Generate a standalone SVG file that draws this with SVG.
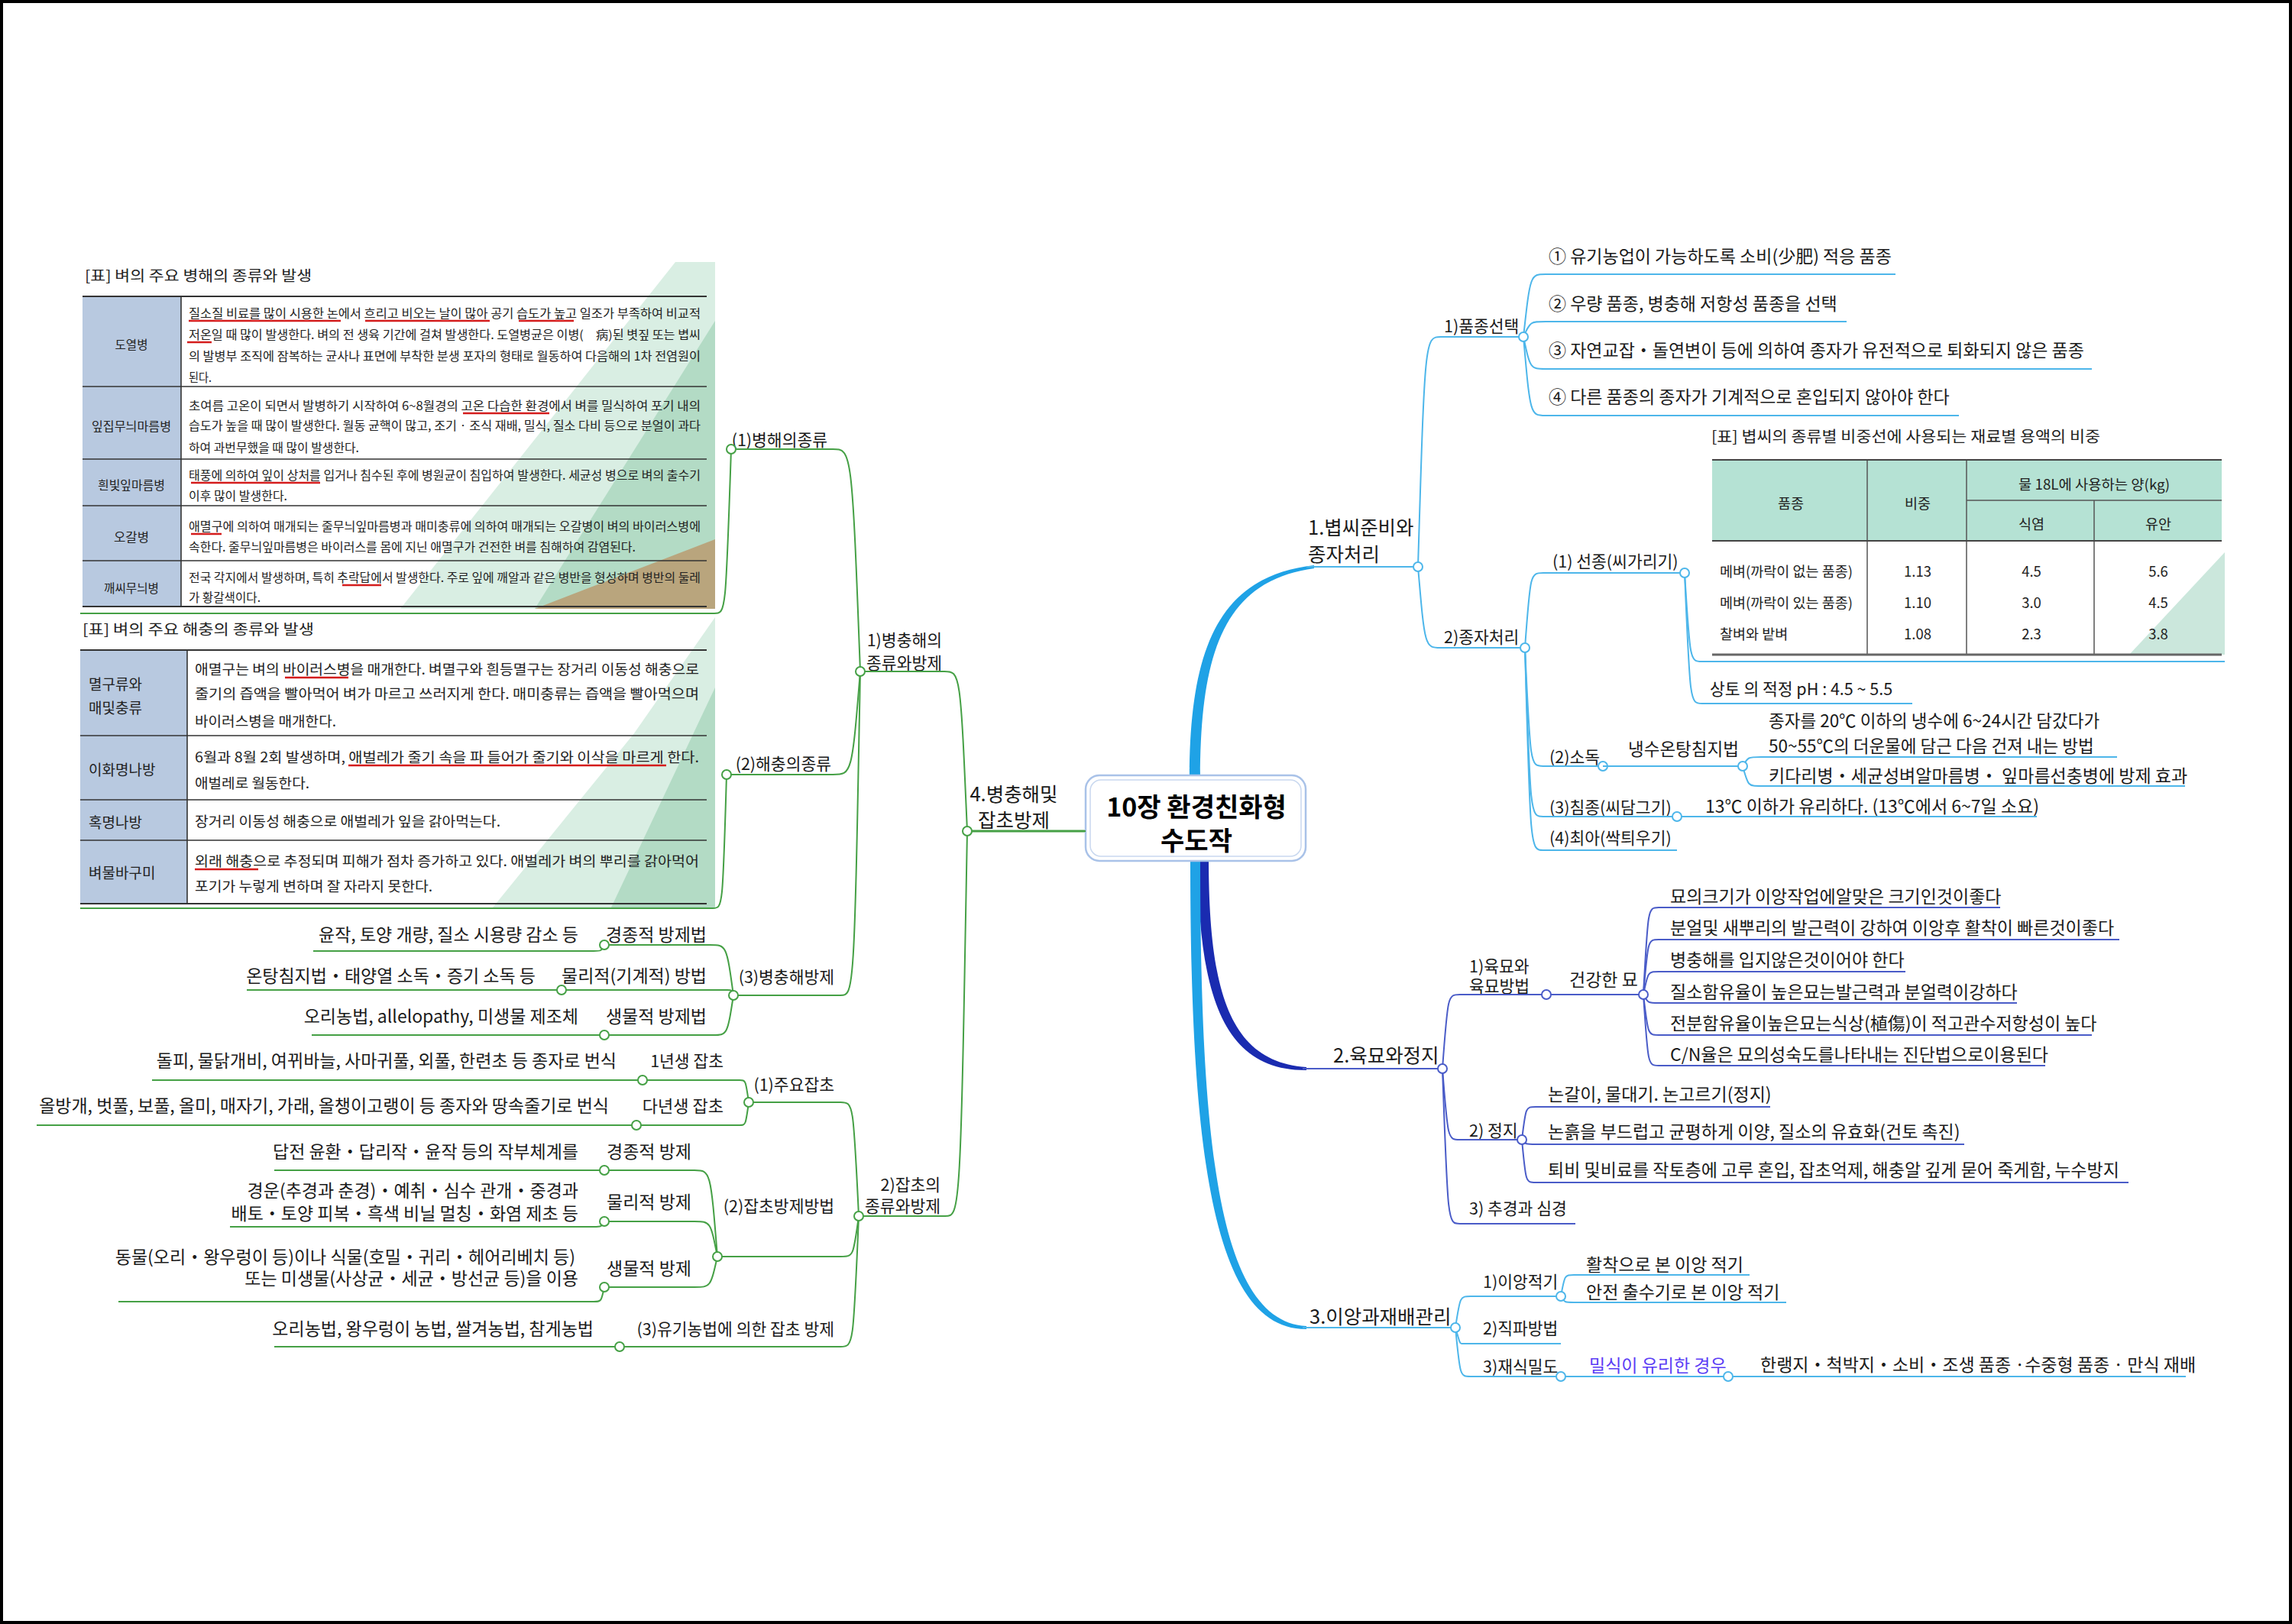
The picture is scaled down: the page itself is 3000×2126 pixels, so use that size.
<svg xmlns="http://www.w3.org/2000/svg" width="3000" height="2126" viewBox="0 0 3000 2126">
<style>
.n{font-family:'Noto Sans CJK KR','Noto Sans',sans-serif;font-size:23px;fill:#1a1a1a}
.s{font-size:21.5px}
.m{font-size:25.5px}
.e{text-anchor:end}
.c{text-anchor:middle}
.tb{font-family:'Noto Sans CJK KR','Noto Sans',sans-serif;fill:#222}
.cy{stroke:#4db6ea;stroke-width:2;fill:none}
.bl{stroke:#4a5cc8;stroke-width:2;fill:none}
.gr{stroke:#45a045;stroke-width:2;fill:none}
.dc{fill:#fff;stroke:#4db6ea;stroke-width:2}
.db{fill:#fff;stroke:#4a5cc8;stroke-width:2}
.dg{fill:#fff;stroke:#45a045;stroke-width:2}
.red{stroke:#d41c1c;stroke-width:2.5}
.tl{stroke:#333;stroke-width:1.6}
</style>
<rect width="3000" height="2126" fill="#fff"/>

<!-- connectors -->
<g id="connectors">
<path d="M1557 1020C1557 845 1597 754 1720 740L1720 744C1603 760 1571 852 1571 1020Z" fill="#1fa2e6"/>
<path d="M1568 1122C1568 1302 1601 1402 1710 1401L1710 1397C1609 1390 1582 1298 1582 1122Z" fill="#1a2bb0"/>
<path d="M1558 1122C1558 1500 1585 1741 1710 1740L1710 1736C1595 1730 1571 1500 1571 1122Z" fill="#1fa2e6"/>
<path class="gr" style="stroke-width:3" d="M1421 1088H1266"/>
<g class="cy">
<path d="M1856 742C1865 441 1865 441 1886 441"/>
<path d="M1856 742C1865 848 1865 848 1886 848"/>
<path d="M1994 441C2003 359 2003 359 2023 359"/>
<path d="M1994 441C2003 421 2003 421 2023 421"/>
<path d="M1994 441C2003 483 2003 483 2023 483"/>
<path d="M1994 441C2003 544 2003 544 2023 544"/>
<path d="M1996 848C2003 750 2003 750 2020 750"/>
<path d="M1996 848C2003 1003 2003 1003 2020 1003"/>
<path d="M1996 848C2003 1069 2003 1069 2020 1069"/>
<path d="M1996 848C2003 1113 2003 1113 2020 1113"/>
<path d="M2205 750C2212 866 2212 866 2228 866"/>
<path d="M2205 750C2212 921 2212 921 2228 921"/>
<path d="M2281 1003C2288 991 2288 991 2305 991"/>
<path d="M2281 1003C2288 1029 2288 1029 2305 1029"/>
<path d="M1905 1738C1911 1697 1911 1697 1925 1697"/>
<path d="M1905 1738C1911 1759 1911 1759 1913 1759"/>
<path d="M1905 1738C1911 1802 1911 1802 1925 1802"/>
<path d="M2043 1697C2048 1669 2048 1669 2060 1669"/>
<path d="M2043 1697C2048 1705 2048 1705 2060 1705"/>
</g>
<g class="bl">
<path d="M1888 1399C1895 1302 1895 1302 1911 1302"/>
<path d="M1888 1399C1895 1492 1895 1492 1911 1492"/>
<path d="M1888 1399C1895 1602 1895 1602 1911 1602"/>
<path d="M2151 1302C2157 1188 2157 1188 2171 1188"/>
<path d="M2151 1302C2157 1230 2157 1230 2171 1230"/>
<path d="M2151 1302C2157 1272 2157 1272 2171 1272"/>
<path d="M2151 1302C2157 1313 2157 1313 2171 1313"/>
<path d="M2151 1302C2157 1355 2157 1355 2171 1355"/>
<path d="M2151 1302C2157 1395 2157 1395 2171 1395"/>
<path d="M1992 1492C1997 1449 1997 1449 2010 1449"/>
<path d="M1992 1492C1997 1498 1997 1498 2010 1498"/>
<path d="M1992 1492C1997 1548 1997 1548 2010 1548"/>
</g>
<g class="gr">
<path d="M1266 1088C1257 879 1257 879 1236 879"/>
<path d="M1266 1088C1257 1592 1257 1592 1237 1592"/>
<path d="M1126 879C1115 588 1115 588 1090 588"/>
<path d="M1126 879C1115 1014 1115 1014 1090 1014"/>
<path d="M1126 879C1118 1303 1118 1303 1100 1303"/>
<path d="M957 588C950 803 950 803 935 803"/>
<path d="M951 1014C946 1189 946 1189 933 1189"/>
<path d="M960 1303C951 1237 951 1237 929 1237"/>
<path d="M960 1303C958 1296 958 1296 952 1296"/>
<path d="M960 1303C952 1355 952 1355 933 1355"/>
<path d="M791 1237C787 1245 787 1245 777 1245"/>
<path d="M1124 1592C1117 1443 1117 1443 1100 1443"/>
<path d="M1124 1592C1117 1645 1117 1645 1100 1645"/>
<path d="M1124 1592C1117 1763 1117 1763 1100 1763"/>
<path d="M980 1443C976 1414 976 1414 968 1414"/>
<path d="M980 1443C976 1473 976 1473 968 1473"/>
<path d="M939 1645C930 1532 930 1532 909 1532"/>
<path d="M939 1645C930 1599 930 1599 909 1599"/>
<path d="M939 1645C930 1685 930 1685 909 1685"/>
<path d="M791 1599C787 1606 787 1606 777 1606"/>
<path d="M791 1685C787 1704 787 1704 777 1704"/>
</g>
</g>

<!-- center -->
<g id="center">
<rect x="1421" y="1015" width="288" height="112" rx="18" fill="#fff" stroke="#a9c2e8" stroke-width="2.5"/>
<rect x="1427" y="1021" width="276" height="100" rx="14" fill="none" stroke="#c9d8ef" stroke-width="1.5"/>
<text class="n c" x="1566" y="1069" style="font-size:34px;font-weight:bold;fill:#000">10장 환경친화형</text>
<text class="n c" x="1566" y="1113" style="font-size:34px;font-weight:bold;fill:#000">수도작</text>
</g>

<!-- branch 1 -->
<g id="n1"><text class="n m" x="1712" y="700">1.볍씨준비와</text><text class="n m" x="1712" y="735">종자처리</text><path class="cy" d="M1710 742H1856"/><circle class="dc" cx="1856" cy="742" r="6"/></g>
<g id="n1_1"><text class="n s" x="1890" y="435">1)품종선택</text><path class="cy" d="M1886 441H1994"/><circle class="dc" cx="1994" cy="441" r="6"/></g>
<g id="n1_1_1"><text class="n" x="2027" y="344">① 유기농업이 가능하도록 소비(少肥) 적응 품종</text><path class="cy" d="M2023 359H2481"/></g>
<g id="n1_1_2"><text class="n" x="2027" y="406">② 우량 품종, 병충해 저항성 품종을 선택</text><path class="cy" d="M2023 421H2417"/></g>
<g id="n1_1_3"><text class="n" x="2027" y="467">③ 자연교잡・돌연변이 등에 의하여 종자가 유전적으로 퇴화되지 않은 품종</text><path class="cy" d="M2023 483H2738"/></g>
<g id="n1_1_4"><text class="n" x="2027" y="528">④ 다른 품종의 종자가 기계적으로 혼입되지 않아야 한다</text><path class="cy" d="M2023 544H2564"/></g>
<g id="n1_2"><text class="n s" x="1890" y="842">2)종자처리</text><path class="cy" d="M1886 848H1996"/><circle class="dc" cx="1996" cy="848" r="6"/></g>
<g id="n1_2_1"><text class="n s" x="2032" y="743">(1) 선종(씨가리기)</text><path class="cy" d="M2020 750H2205"/><circle class="dc" cx="2205" cy="750" r="6"/></g>
<g id="n1_2_1_1">
<text class="tb" x="2240" y="579" font-size="20" textLength="509" lengthAdjust="spacingAndGlyphs">[표] 볍씨의 종류별 비중선에 사용되는 재료별 용액의 비중</text>
<rect x="2241" y="602" width="667" height="106" fill="#b5e2d4"/>
<polygon points="2912,723 2787,857 2912,857" fill="#cbe7dc"/>
<g stroke="#555" stroke-width="1.5"><path d="M2444 602V857M2574 602V857M2741 655V857M2574 655H2908"/></g>
<path d="M2241 602H2908M2241 708H2908" stroke="#444" stroke-width="2"/>
<path d="M2241 857H2908" stroke="#666" stroke-width="3"/>
<g class="tb" font-size="18.5" text-anchor="middle">
<text x="2344" y="666">품종</text><text x="2510" y="666">비중</text><text x="2741" y="641" textLength="198" lengthAdjust="spacingAndGlyphs">물 18L에 사용하는 양(kg)</text><text x="2659" y="693">식염</text><text x="2825" y="693">유안</text>
<text x="2510" y="755">1.13</text><text x="2659" y="755">4.5</text><text x="2825" y="755">5.6</text>
<text x="2510" y="796">1.10</text><text x="2659" y="796">3.0</text><text x="2825" y="796">4.5</text>
<text x="2510" y="837">1.08</text><text x="2659" y="837">2.3</text><text x="2825" y="837">3.8</text>
</g>
<g class="tb" font-size="18.5"><text x="2251" y="755">메벼(까락이 없는 품종)</text><text x="2251" y="796">메벼(까락이 있는 품종)</text><text x="2251" y="837">찰벼와 밭벼</text></g>
<path class="cy" d="M2228 866H2912"/>
</g>
<g id="n1_2_1_2"><text class="n s" x="2238" y="910">상토 의 적정 pH : 4.5 ~ 5.5</text><path class="cy" d="M2228 921H2503"/></g>
<g id="n1_2_2"><text class="n s" x="2028" y="999">(2)소독</text><path class="cy" d="M2020 1003H2098"/><circle class="dc" cx="2098" cy="1003" r="6"/></g>
<g id="n1_2_2_1"><text class="n" x="2131" y="989" style="font-size:22.5px">냉수온탕침지법</text><path class="cy" d="M2098 1003H2281"/><circle class="dc" cx="2281" cy="1003" r="6"/></g>
<g id="n1_2_2_1_1"><text class="n" x="2315" y="952" style="font-size:22.5px">종자를 20℃ 이하의 냉수에 6~24시간 담갔다가</text><text class="n" x="2315" y="985" style="font-size:22.5px">50~55℃의 더운물에 담근 다음 건져 내는 방법</text><path class="cy" d="M2305 991H2771"/></g>
<g id="n1_2_2_1_2"><text class="n" x="2315" y="1024">키다리병・세균성벼알마름병・ 잎마름선충병에 방제 효과</text><path class="cy" d="M2305 1029H2860"/></g>
<g id="n1_2_3"><text class="n s" x="2028" y="1065">(3)침종(씨담그기)</text><path class="cy" d="M2020 1069H2195"/><circle class="dc" cx="2195" cy="1069" r="6"/></g>
<g id="n1_2_3_1"><text class="n" x="2232" y="1064">13℃ 이하가 유리하다. (13℃에서 6~7일 소요)</text><path class="cy" d="M2201 1069H2666"/></g>
<g id="n1_2_4"><text class="n s" x="2028" y="1105">(4)최아(싹틔우기)</text><path class="cy" d="M2020 1113H2195"/></g>

<!-- branch 2 -->
<g id="n2"><text class="n m" x="1745" y="1391">2.육묘와정지</text><path class="bl" d="M1705 1399H1888"/><circle class="db" cx="1888" cy="1399" r="6"/></g>
<g id="n2_1"><text class="n s" x="1923" y="1273">1)육묘와</text><text class="n s" x="1923" y="1299">육묘방법</text><path class="bl" d="M1911 1302H2024"/><circle class="db" cx="2024" cy="1302" r="6"/></g>
<g id="n2_1_1"><text class="n" x="2054" y="1291">건강한 묘</text><path class="bl" d="M2030 1302H2151"/><circle class="db" cx="2151" cy="1302" r="6"/></g>
<g id="n2_1_1_1"><text class="n" x="2186" y="1182">묘의크기가 이앙작업에알맞은 크기인것이좋다</text><path class="bl" d="M2171 1188H2618"/></g>
<g id="n2_1_1_2"><text class="n" x="2186" y="1223">분얼및 새뿌리의 발근력이 강하여 이앙후 활착이 빠른것이좋다</text><path class="bl" d="M2171 1230H2774"/></g>
<g id="n2_1_1_3"><text class="n" x="2186" y="1265">병충해를 입지않은것이어야 한다</text><path class="bl" d="M2171 1272H2494"/></g>
<g id="n2_1_1_4"><text class="n" x="2186" y="1307">질소함유율이 높은묘는발근력과 분얼력이강하다</text><path class="bl" d="M2171 1313H2640"/></g>
<g id="n2_1_1_5"><text class="n" x="2186" y="1348">전분함유율이높은묘는식상(植傷)이 적고관수저항성이 높다</text><path class="bl" d="M2171 1355H2738"/></g>
<g id="n2_1_1_6"><text class="n" x="2186" y="1389">C/N율은 묘의성숙도를나타내는 진단법으로이용된다</text><path class="bl" d="M2171 1395H2677"/></g>
<g id="n2_2"><text class="n s" x="1923" y="1488">2) 정지</text><path class="bl" d="M1911 1492H1992"/><circle class="db" cx="1992" cy="1492" r="6"/></g>
<g id="n2_2_1"><text class="n" x="2026" y="1441">논갈이, 물대기. 논고르기(정지)</text><path class="bl" d="M2010 1449H2317"/></g>
<g id="n2_2_2"><text class="n" x="2026" y="1490">논흙을 부드럽고 균평하게 이양, 질소의 유효화(건토 촉진)</text><path class="bl" d="M2010 1498H2571"/></g>
<g id="n2_2_3"><text class="n" x="2026" y="1540">퇴비 및비료를 작토층에 고루 혼입, 잡초억제, 해충알 깊게 묻어 죽게함, 누수방지</text><path class="bl" d="M2010 1548H2786"/></g>
<g id="n2_3"><text class="n s" x="1923" y="1590">3) 추경과 심경</text><path class="bl" d="M1911 1602H2062"/></g>

<!-- branch 3 -->
<g id="n3"><text class="n m" x="1714" y="1733">3.이앙과재배관리</text><path class="cy" d="M1705 1738H1905"/><circle class="dc" cx="1905" cy="1738" r="6"/></g>
<g id="n3_1"><text class="n s" x="1941" y="1686">1)이앙적기</text><path class="cy" d="M1925 1697H2043"/><circle class="dc" cx="2043" cy="1697" r="6"/></g>
<g id="n3_1_1"><text class="n" x="2076" y="1664">활착으로 본 이앙 적기</text><path class="cy" d="M2060 1669H2290"/></g>
<g id="n3_1_2"><text class="n" x="2076" y="1700">안전 출수기로 본 이앙 적기</text><path class="cy" d="M2060 1705H2338"/></g>
<g id="n3_2"><text class="n s" x="1941" y="1747">2)직파방법</text><path class="cy" d="M1913 1759H2043"/></g>
<g id="n3_3"><text class="n s" x="1941" y="1797">3)재식밀도</text><path class="cy" d="M1925 1802H2043"/><circle class="dc" cx="2043" cy="1802" r="6"/></g>
<g id="n3_3_1"><text class="n" x="2080" y="1796" style="fill:#5b3df5">밀식이 유리한 경우</text><path class="cy" d="M2049 1802H2262"/><circle class="dc" cx="2262" cy="1802" r="6"/></g>
<g id="n3_3_1_1"><text class="n" x="2304" y="1795">한랭지・척박지・소비・조생 품종 ·수중형 품종 · 만식 재배</text><path class="cy" d="M2268 1802H2861"/></g>

<!-- branch 4 -->
<g id="n4"><text class="n m c" x="1327" y="1049">4.병충해및</text><text class="n m c" x="1327" y="1083">잡초방제</text><path class="gr" d="M1266 1088H1421"/><circle class="dg" cx="1266" cy="1088" r="6"/></g>
<g id="n4_1"><text class="n s e" x="1233" y="846">1)병충해의</text><text class="n s e" x="1233" y="876">종류와방제</text><path class="gr" d="M1126 879H1236"/><circle class="dg" cx="1126" cy="879" r="6"/></g>
<g id="n4_1_1"><text class="n s e" x="1083" y="584">(1)병해의종류</text><path class="gr" d="M957 588H1090"/><circle class="dg" cx="957" cy="588" r="6"/></g>
<g id="n4_1_1_1">
<polygon points="884,343 936,343 936,797 524,797" fill="#d9eee3"/>
<polygon points="936,420 936,797 700,797" fill="#b3dbc5"/>
<polygon points="936,706 936,797 700,797" fill="#b9a57d"/>
<rect x="108" y="388" width="129" height="406" fill="#b8c9e0"/>
<text class="tb" x="111" y="368" font-size="19" textLength="297" lengthAdjust="spacingAndGlyphs">[표] 벼의 주요 병해의 종류와 발생</text>
<path d="M108 388H925M108 794H925" stroke="#333" stroke-width="2"/>
<path class="tl" d="M108 506H925M108 601H925M108 662H925M108 734H925M237 388V794"/>
<g class="tb" font-size="16" text-anchor="middle">
<text x="172" y="457" textLength="43" lengthAdjust="spacingAndGlyphs">도열병</text>
<text x="172" y="564" textLength="104" lengthAdjust="spacingAndGlyphs">잎집무늬마름병</text>
<text x="172" y="641" textLength="88" lengthAdjust="spacingAndGlyphs">흰빛잎마름병</text>
<text x="172" y="709" textLength="46" lengthAdjust="spacingAndGlyphs">오갈병</text>
<text x="172" y="776" textLength="72" lengthAdjust="spacingAndGlyphs">깨씨무늬병</text>
</g>
<g class="tb" font-size="15.5">
<text x="247" y="416" textLength="670" lengthAdjust="spacingAndGlyphs">질소질 비료를 많이 시용한 논에서 흐리고 비오는 날이 많아 공기 습도가 높고 일조가 부족하여 비교적</text>
<text x="247" y="444" textLength="670" lengthAdjust="spacingAndGlyphs">저온일 때 많이 발생한다. 벼의 전 생육 기간에 걸쳐 발생한다. 도열병균은 이병(　病)된 볏짚 또는 볍씨</text>
<text x="247" y="472" textLength="670" lengthAdjust="spacingAndGlyphs">의 발병부 조직에 잠복하는 균사나 표면에 부착한 분생 포자의 형태로 월동하여 다음해의 1차 전염원이</text>
<text x="247" y="500" textLength="30" lengthAdjust="spacingAndGlyphs">된다.</text>
<text x="247" y="537" textLength="670" lengthAdjust="spacingAndGlyphs">초여름 고온이 되면서 발병하기 시작하여 6~8월경의 고온 다습한 환경에서 벼를 밀식하여 포기 내의</text>
<text x="247" y="563" textLength="670" lengthAdjust="spacingAndGlyphs">습도가 높을 때 많이 발생한다. 월동 균핵이 많고, 조기 · 조식 재배, 밀식, 질소 다비 등으로 분얼이 과다</text>
<text x="247" y="592" textLength="223" lengthAdjust="spacingAndGlyphs">하여 과번무했을 때 많이 발생한다.</text>
<text x="247" y="628" textLength="670" lengthAdjust="spacingAndGlyphs">태풍에 의하여 잎이 상처를 입거나 침수된 후에 병원균이 침입하여 발생한다. 세균성 병으로 벼의 출수기</text>
<text x="247" y="655" textLength="129" lengthAdjust="spacingAndGlyphs">이후 많이 발생한다.</text>
<text x="247" y="695" textLength="670" lengthAdjust="spacingAndGlyphs">애멸구에 의하여 매개되는 줄무늬잎마름병과 매미충류에 의하여 매개되는 오갈병이 벼의 바이러스병에</text>
<text x="247" y="722" textLength="585" lengthAdjust="spacingAndGlyphs">속한다. 줄무늬잎마름병은 바이러스를 몸에 지닌 애멸구가 건전한 벼를 침해하여 감염된다.</text>
<text x="247" y="762" textLength="670" lengthAdjust="spacingAndGlyphs">전국 각지에서 발생하며, 특히 추락답에서 발생한다. 주로 잎에 깨알과 같은 병반을 형성하며 병반의 둘레</text>
<text x="247" y="788" textLength="94" lengthAdjust="spacingAndGlyphs">가 황갈색이다.</text>
</g>
<path class="red" d="M247 420H446M478 420H641M679 420H751M245 448H277M606 541H719M250 632H419M250 699H290M448 766H499"/>
<path class="gr" d="M105 803H935"/>
</g>
<g id="n4_1_2"><text class="n s e" x="1088" y="1008">(2)해충의종류</text><path class="gr" d="M951 1014H1090"/><circle class="dg" cx="951" cy="1014" r="6"/></g>
<g id="n4_1_2_1">
<polygon points="936,808 936,1188 645,1188 830,960" fill="#d9eee3"/>
<polygon points="936,900 936,1188 800,1188" fill="#b3dbc5"/>
<rect x="105" y="851" width="140" height="332" fill="#b8c9e0"/>
<text class="tb" x="108" y="831" font-size="19" textLength="303" lengthAdjust="spacingAndGlyphs">[표] 벼의 주요 해충의 종류와 발생</text>
<path d="M105 851H925M105 1183H925" stroke="#333" stroke-width="2"/>
<path class="tl" d="M105 963H925M105 1047H925M105 1100H925M245 851V1183"/>
<g class="tb" font-size="19">
<text x="116" y="903">멸구류와</text><text x="116" y="934">매및충류</text>
<text x="116" y="1015">이화명나방</text><text x="116" y="1084">혹명나방</text><text x="116" y="1150">벼물바구미</text>
</g>
<g class="tb" font-size="18">
<text x="255" y="883" textLength="660" lengthAdjust="spacingAndGlyphs">애멸구는 벼의 바이러스병을 매개한다. 벼멸구와 흰등멸구는 장거리 이동성 해충으로</text>
<text x="255" y="915" textLength="660" lengthAdjust="spacingAndGlyphs">줄기의 즙액을 빨아먹어 벼가 마르고 쓰러지게 한다. 매미충류는 즙액을 빨아먹으며</text>
<text x="255" y="951" textLength="185" lengthAdjust="spacingAndGlyphs">바이러스병을 매개한다.</text>
<text x="255" y="998" textLength="660" lengthAdjust="spacingAndGlyphs">6월과 8월 2회 발생하며, 애벌레가 줄기 속을 파 들어가 줄기와 이삭을 마르게 한다.</text>
<text x="255" y="1032" textLength="150" lengthAdjust="spacingAndGlyphs">애벌레로 월동한다.</text>
<text x="255" y="1082" textLength="400" lengthAdjust="spacingAndGlyphs">장거리 이동성 해충으로 애벌레가 잎을 갉아먹는다.</text>
<text x="255" y="1134" textLength="660" lengthAdjust="spacingAndGlyphs">외래 해충으로 추정되며 피해가 점차 증가하고 있다. 애벌레가 벼의 뿌리를 갉아먹어</text>
<text x="255" y="1167" textLength="311" lengthAdjust="spacingAndGlyphs">포기가 누렇게 변하며 잘 자라지 못한다.</text>
</g>
<path class="red" d="M373 887H456M456 1002H872M255 1138H338"/>
<path class="gr" d="M105 1189H933"/>
</g>
<g id="n4_1_3"><text class="n s e" x="1092" y="1287">(3)병충해방제</text><path class="gr" d="M960 1303H1100"/><circle class="dg" cx="960" cy="1303" r="6"/></g>
<g id="n4_1_3_1"><text class="n e" x="925" y="1232">경종적 방제법</text><path class="gr" d="M791 1237H929"/><circle class="dg" cx="791" cy="1237" r="6"/></g>
<g id="n4_1_3_1_1"><text class="n e" x="757" y="1232">윤작, 토양 개량, 질소 시용량 감소 등</text><path class="gr" d="M410 1245H777"/></g>
<g id="n4_1_3_2"><text class="n e" x="925" y="1286">물리적(기계적) 방법</text><path class="gr" d="M735 1296H952"/><circle class="dg" cx="735" cy="1296" r="6"/></g>
<g id="n4_1_3_2_1"><text class="n e" x="701" y="1286">온탕침지법・태양열 소독・증기 소독 등</text><path class="gr" d="M323 1296H729"/></g>
<g id="n4_1_3_3"><text class="n e" x="925" y="1339">생물적 방제법</text><path class="gr" d="M791 1355H933"/><circle class="dg" cx="791" cy="1355" r="6"/></g>
<g id="n4_1_3_3_1"><text class="n e" x="757" y="1339">오리농법, allelopathy, 미생물 제조체</text><path class="gr" d="M408 1355H785"/></g>
<g id="n4_2"><text class="n s e" x="1231" y="1559">2)잡초의</text><text class="n s e" x="1231" y="1587">종류와방제</text><path class="gr" d="M1124 1592H1237"/><circle class="dg" cx="1124" cy="1592" r="6"/></g>
<g id="n4_2_1"><text class="n s e" x="1092" y="1428">(1)주요잡초</text><path class="gr" d="M980 1443H1100"/><circle class="dg" cx="980" cy="1443" r="6"/></g>
<g id="n4_2_1_1"><text class="n s e" x="947" y="1397">1년생 잡초</text><path class="gr" d="M841 1414H968"/><circle class="dg" cx="841" cy="1414" r="6"/></g>
<g id="n4_2_1_1_1"><text class="n e" x="807" y="1397">돌피, 물닭개비, 여뀌바늘, 사마귀풀, 외풀, 한련초 등 종자로 번식</text><path class="gr" d="M199 1414H835"/></g>
<g id="n4_2_1_2"><text class="n e" x="947" y="1456" style="font-size:22px">다년생 잡초</text><path class="gr" d="M833 1473H968"/><circle class="dg" cx="833" cy="1473" r="6"/></g>
<g id="n4_2_1_2_1"><text class="n e" x="797" y="1456">올방개, 벗풀, 보풀, 올미, 매자기, 가래, 올챙이고랭이 등 종자와 땅속줄기로 번식</text><path class="gr" d="M48 1473H827"/></g>
<g id="n4_2_2"><text class="n s e" x="1092" y="1587">(2)잡초방제방법</text><path class="gr" d="M939 1645H1100"/><circle class="dg" cx="939" cy="1645" r="6"/></g>
<g id="n4_2_2_1"><text class="n e" x="905" y="1516">경종적 방제</text><path class="gr" d="M791 1532H909"/><circle class="dg" cx="791" cy="1532" r="6"/></g>
<g id="n4_2_2_1_1"><text class="n e" x="757" y="1516">답전 윤환・답리작・윤작 등의 작부체계를</text><path class="gr" d="M359 1532H785"/></g>
<g id="n4_2_2_2"><text class="n e" x="905" y="1582">물리적 방제</text><path class="gr" d="M791 1599H909"/><circle class="dg" cx="791" cy="1599" r="6"/></g>
<g id="n4_2_2_2_1"><text class="n e" x="757" y="1567">경운(추경과 춘경)・예취・심수 관개・중경과</text><text class="n e" x="757" y="1597">배토・토양 피복・흑색 비닐 멀칭・화염 제초 등</text><path class="gr" d="M301 1606H777"/></g>
<g id="n4_2_2_3"><text class="n e" x="905" y="1669">생물적 방제</text><path class="gr" d="M791 1685H909"/><circle class="dg" cx="791" cy="1685" r="6"/></g>
<g id="n4_2_2_3_1"><text class="n e" x="753" y="1654">동물(오리・왕우렁이 등)이나 식물(호밀・귀리・헤어리베치 등)</text><text class="n e" x="757" y="1682">또는 미생물(사상균・세균・방선균 등)을 이용</text><path class="gr" d="M155 1704H777"/></g>
<g id="n4_2_3"><text class="n s e" x="1092" y="1748">(3)유기농법에 의한 잡초 방제</text><path class="gr" d="M811 1763H1100"/><circle class="dg" cx="811" cy="1763" r="6"/></g>
<g id="n4_2_3_1"><text class="n e" x="777" y="1748">오리농법, 왕우렁이 농법, 쌀겨농법, 참게농법</text><path class="gr" d="M359 1763H805"/></g>

<rect x="2" y="2" width="2996" height="2122" fill="none" stroke="#000" stroke-width="4"/>
</svg>
